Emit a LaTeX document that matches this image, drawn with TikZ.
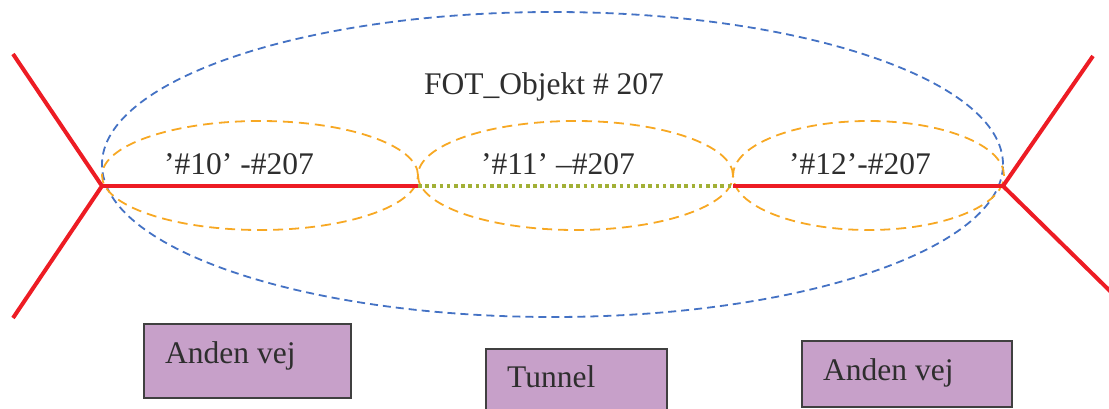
\documentclass[tikz,border=0pt]{standalone}
\usepackage{fontspec}
\setmainfont{Liberation Serif}
\usetikzlibrary{shapes.geometric}
\definecolor{roadred}{HTML}{ED1C24}
\definecolor{tunnelgreen}{HTML}{A2B036}
\definecolor{objblue}{HTML}{4472C4}
\definecolor{segorange}{HTML}{F7A823}
\definecolor{boxfill}{HTML}{C7A0C9}
\definecolor{boxline}{HTML}{404040}
\definecolor{txt}{HTML}{2E2E2E}
\tikzset{
  road/.style={draw=roadred, line width=4pt},
  tunnelroad/.style={draw=tunnelgreen, line width=4pt, dash pattern=on 3.6pt off 3.6pt},
  objring/.style={ellipse, draw=objblue, line width=1.8pt, dash pattern=on 8pt off 5pt, inner sep=0pt},
  segring/.style={ellipse, draw=segorange, line width=1.8pt, dash pattern=on 10pt off 6pt, inner sep=0pt},
  typebox/.style={draw=boxline, fill=boxfill, line width=1.8pt, anchor=north west, inner sep=0pt},
  lbl/.style={text=txt, font=\fontsize{31.5}{36}\selectfont, inner sep=0pt},
}
\begin{document}
\begin{tikzpicture}[x=1pt, y=-1pt]
\useasboundingbox (0,0) rectangle (1109,409);

% object and segment outlines
\node[objring, minimum width=901pt, minimum height=305pt] (fot) at (552.5,164.5) {};
\node[segring, minimum width=316pt, minimum height=109pt] (s10) at (260,175.5) {};
\node[segring, minimum width=315pt, minimum height=109pt] (s11) at (575.5,175.5) {};
\node[segring, minimum width=271pt, minimum height=109pt] (s12) at (868.5,175.5) {};

% road network
\coordinate (jl) at (102,186);
\coordinate (jr) at (1003,186);
\coordinate (m1) at (418,186);
\coordinate (m2) at (733,186);
\coordinate (lu) at (13,54);
\coordinate (ld) at (13,318);
\coordinate (ru) at (1093,56);
\coordinate (rd) at (1111,292);

\draw[tunnelroad] (m1) -- (m2);
\draw[road] (jl) -- (m1);
\draw[road] (m2) -- (jr);
\draw[road, line join=miter] (lu) -- (jl) -- (ld);
\draw[road, line join=miter] (ru) -- (jr) -- (rd);

% labels
\node[lbl, anchor=base] (tfot) at (544,95) {FOT\_Objekt \# 207};
\node[lbl, anchor=base] (t10) at (239,175) {’\#10’ -\#207};
\node[lbl, anchor=base] (t11) at (558,175) {’\#11’ –\#207};
\node[lbl, anchor=base] (t12) at (860,175) {’\#12’-\#207};

% road type boxes
\node[typebox, minimum width=207pt, minimum height=74pt] (b1) at (143,323) {};
\node[typebox, minimum width=181pt, minimum height=70pt] (b2) at (485,348) {};
\node[typebox, minimum width=210pt, minimum height=66pt] (b3) at (801,340) {};
\node[lbl, anchor=base west] (tb1) at (165,363) {Anden vej};
\node[lbl, anchor=base west] (tb2) at (507,387) {Tunnel};
\node[lbl, anchor=base west] (tb3) at (823,380) {Anden vej};
\end{tikzpicture}
\end{document}
